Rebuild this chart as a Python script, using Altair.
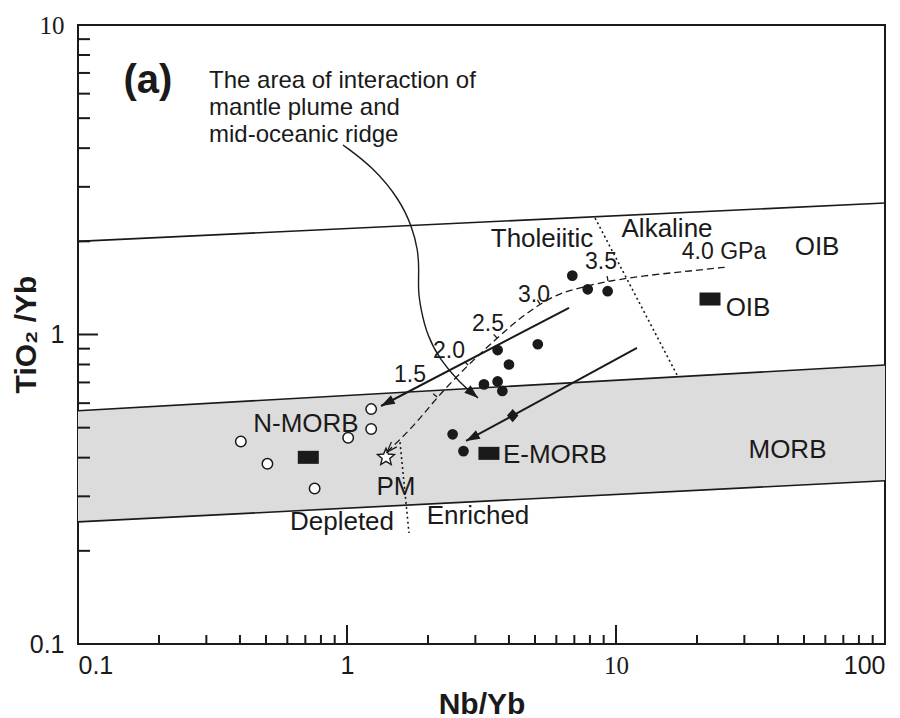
import altair as alt
import pandas as pd

# ---------------- data ----------------
x_ticks_major = [1, 10]
x_ticks_minor = [0.2, 0.3, 0.4, 0.5, 0.6, 0.7, 0.8, 0.9,
                 2, 3, 4, 5, 6, 7, 8, 9,
                 20, 30, 40, 50, 60, 70, 80, 90]
y_ticks_major = [1]
y_ticks_minor = [0.2, 0.3, 0.4, 0.5, 0.6, 0.7, 0.8, 0.9,
                 2, 3, 4, 5, 6, 7, 8, 9]

# field boundaries
bound_x = [0.1, 100]
oib_upper_y = [2.0, 2.66]
morb_upper_y = [0.567, 0.797]
morb_lower_y = [0.248, 0.337]

# Tholeiitic / Alkaline divider and Depleted / Enriched divider
thol_x = [8.36, 16.86]
thol_y = [2.379, 0.740]
depl_x = [1.574, 1.70]
depl_y = [0.449, 0.2284]

# open circles (N-MORB-like samples)
open_x = [0.403, 0.506, 0.758, 1.01, 1.23, 1.23]
open_y = [0.451, 0.382, 0.318, 0.464, 0.574, 0.495]

# filled circles
fill_x = [6.88, 7.85, 9.31, 5.12, 3.63, 4.0, 3.23, 3.63, 3.78, 2.47, 2.71]
fill_y = [1.55, 1.40, 1.38, 0.93, 0.891, 0.80, 0.69, 0.705, 0.657, 0.476, 0.42]

# reference compositions (black rectangles)
ref_name = ["N-MORB", "E-MORB", "OIB"]
ref_x = [0.718, 3.37, 22.36]
ref_y = [0.401, 0.413, 1.302]

# primitive mantle star
pm_x = [1.396]
pm_y = [0.401]

# diamond on lower arrow
dia_x = [4.13]
dia_y = [0.547]

# straight arrows (start -> tip)
arrow1_x = [6.69, 1.338]
arrow1_y = [1.22, 0.5875]
arrow2_x = [11.97, 2.770]
arrow2_y = [0.9045, 0.453]

# curved annotation arrow
curve_x = [0.966, 1.249, 1.574, 1.745, 1.836, 1.852, 1.836, 1.884, 1.984, 2.217, 2.631, 3.069]
curve_y = [4.096, 3.476, 2.720, 2.225, 1.875, 1.616, 1.393, 1.200, 0.996, 0.827, 0.697, 0.624]

# melting (pressure) curve, dashed
melt_x = [1.408, 1.790, 2.161, 2.818, 3.611, 4.397, 5.219, 6.193, 7.540, 9.338, 13.38, 18.84, 25.86]
melt_y = [0.417, 0.510, 0.628, 0.797, 0.974, 1.131, 1.254, 1.362, 1.424, 1.489, 1.557, 1.604, 1.652]

# pressure ticks on melting curve
ptick_x = [2.161, 2.818, 3.611, 5.219, 9.338]
ptick_y = [0.628, 0.797, 0.974, 1.254, 1.489]
ptick_angle = [311, 315, 318, 328, 350]
plabel_text = ["1.5", "2.0", "2.5", "3.0", "3.5"]
plabel_x = [1.715, 2.394, 3.344, 4.957, 8.797]
plabel_y = [0.740, 0.885, 1.081, 1.341, 1.715]
gpa_text = ["4.0 GPa"]
gpa_x = [25.2]
gpa_y = [1.848]

# arrowheads (tip positions and heading)
head_x = [1.338, 2.770, 3.069]
head_y = [0.5875, 0.453, 0.624]
head_angle = [242, 242, 130]
open_head_x = [1.408]
open_head_y = [0.417]
open_head_angle = [223]

# field / composition labels
lab_text = ["Tholeiitic", "Alkaline", "OIB", "OIB", "N-MORB", "PM",
            "Depleted", "Enriched", "E-MORB", "MORB"]
lab_x = [5.31, 15.48, 55.9, 30.96, 0.704, 1.521, 0.958, 3.069, 5.93, 43.4]
lab_y = [2.035, 2.192, 1.918, 1.222, 0.514, 0.3217, 0.248, 0.260, 0.407, 0.422]

note_text = ["The area of interaction of\nmantle plume and\nmid-oceanic ridge"]
note_x = [0.307]
note_y = [6.25]

panel_text = ["(a)"]
panel_x = [0.182]
panel_y = [6.60]

# ---------------- chart ----------------
W, H = 807, 619
INK = "#1a1a1a"
SANS = "Liberation Sans"

label_font = {"condition": {"test": "datum.value == 10", "value": "Liberation Serif"},
              "value": SANS}

xaxis = alt.Axis(values=[0.1, 1, 10, 100], format="~g", ticks=False, domain=False,
                 grid=False, labelFontSize=25, labelPadding=9, labelColor=INK,
                 labelFont=label_font, title="Nb/Yb", titleFontSize=30,
                 titleFont=SANS, titleFontWeight="bold", titleColor=INK,
                 titleY=69, titleBaseline="alphabetic", labelOverlap=False)
yaxis = alt.Axis(values=[0.1, 1, 10], format="~g", ticks=False, domain=False,
                 grid=False, labelFontSize=25, labelPadding=14, labelColor=INK,
                 labelFont=label_font, labelBaseline="middle", title="TiO₂ /Yb",
                 titleFontSize=30, titleFont=SANS, titleFontWeight="bold",
                 titleColor=INK, titleAngle=270, titleX=-43, titleY=309,
                 titleAlign="center", titleBaseline="alphabetic", labelOverlap=False)

xscale = alt.Scale(type="log", domain=[0.1, 100], nice=False)
yscale = alt.Scale(type="log", domain=[0.1, 10], nice=False)


def X():
    return alt.X("x:Q", scale=xscale, axis=xaxis)


def Y():
    return alt.Y("y:Q", scale=yscale, axis=yaxis)


def df(x, y, **kw):
    d = {"x": x, "y": y}
    d.update(kw)
    d["i"] = list(range(len(x)))
    return pd.DataFrame(d)


# grey MORB band
band = alt.Chart(pd.DataFrame({"x": bound_x, "y": morb_lower_y, "y2": morb_upper_y})).mark_area(
    color="#dcdcdc", opacity=1).encode(x=X(), y=Y(), y2="y2:Q")


def line(x, y, width=1.6, dash=None, interp="linear", color=INK):
    kw = dict(color=color, strokeWidth=width, interpolate=interp)
    if dash:
        kw["strokeDash"] = dash
    return alt.Chart(df(x, y)).mark_line(**kw).encode(x=X(), y=Y(), order="i:Q")


l_oib = line(bound_x, oib_upper_y, 1.6)
l_mu = line(bound_x, morb_upper_y, 1.6)
l_ml = line(bound_x, morb_lower_y, 1.6)
l_thol = line(thol_x, thol_y, 1.6, [2, 3])
l_depl = line(depl_x, depl_y, 1.6, [2, 3])
l_melt = line(melt_x, melt_y, 1.3, [7, 4], "basis")
l_curve = line(curve_x, curve_y, 1.4, None, "basis")
l_a1 = line(arrow1_x, arrow1_y, 2.0)
l_a2 = line(arrow2_x, arrow2_y, 2.0)

# axis ticks drawn inward
xt_major = alt.Chart(pd.DataFrame({"x": x_ticks_major})).mark_rule(color=INK, strokeWidth=2).encode(
    x=X(), y=alt.value(H), y2=alt.value(H - 19))
xt_minor = alt.Chart(pd.DataFrame({"x": x_ticks_minor})).mark_rule(color=INK, strokeWidth=2).encode(
    x=X(), y=alt.value(H), y2=alt.value(H - 9))
yt_major = alt.Chart(pd.DataFrame({"y": y_ticks_major})).mark_rule(color=INK, strokeWidth=2).encode(
    y=Y(), x=alt.value(0), x2=alt.value(20))
yt_minor = alt.Chart(pd.DataFrame({"y": y_ticks_minor})).mark_rule(color=INK, strokeWidth=2).encode(
    y=Y(), x=alt.value(0), x2=alt.value(12))

# symbols
RECT = "M-1,-0.62L1,-0.62L1,0.62L-1,0.62Z"
STAR = ("M0,-1L0.265,-0.364L0.951,-0.309L0.428,0.139L0.588,0.809L0,0.45"
        "L-0.588,0.809L-0.428,0.139L-0.951,-0.309L-0.265,-0.364Z")
DIAM = "M0,-1L0.85,0L0,1L-0.85,0Z"
TRI = "M0,0L0.7,2L-0.7,2Z"
CHEV = "M-0.7,2L0,0L0.7,2"
TICK = "M0,0L0,-1"

p_open = alt.Chart(df(open_x, open_y)).mark_point(
    shape="circle", filled=True, fill="white", stroke=INK, strokeWidth=1.5, size=110, opacity=1
).encode(x=X(), y=Y())
p_fill = alt.Chart(df(fill_x, fill_y)).mark_point(
    shape="circle", filled=True, color=INK, size=115, opacity=1).encode(x=X(), y=Y())
p_ref = alt.Chart(df(ref_x, ref_y, name=ref_name)).mark_point(
    shape=RECT, filled=True, color=INK, size=441, opacity=1).encode(x=X(), y=Y())
p_star = alt.Chart(df(pm_x, pm_y)).mark_point(
    shape=STAR, filled=True, fill="white", stroke=INK, strokeWidth=1.4, size=320, opacity=1
).encode(x=X(), y=Y())
p_dia = alt.Chart(df(dia_x, dia_y)).mark_point(
    shape=DIAM, filled=True, color=INK, size=180, opacity=1).encode(x=X(), y=Y())
p_head = alt.Chart(df(head_x, head_y, a=head_angle)).mark_point(
    shape=TRI, filled=True, color=INK, size=190, opacity=1).encode(
    x=X(), y=Y(), angle=alt.Angle("a:Q", scale=None))
p_chev = alt.Chart(df(open_head_x, open_head_y, a=open_head_angle)).mark_point(
    shape=CHEV, filled=False, stroke=INK, strokeWidth=1.2, size=110, opacity=1).encode(
    x=X(), y=Y(), angle=alt.Angle("a:Q", scale=None))
p_ptick = alt.Chart(df(ptick_x, ptick_y, a=ptick_angle)).mark_point(
    shape=TICK, filled=False, stroke=INK, strokeWidth=1.3, size=100, opacity=1).encode(
    x=X(), y=Y(), angle=alt.Angle("a:Q", scale=None))

# text
t_lab = alt.Chart(df(lab_x, lab_y, t=lab_text)).mark_text(
    font=SANS, fontSize=26, color=INK, align="center", baseline="middle").encode(
    x=X(), y=Y(), text="t:N")
t_pres = alt.Chart(df(plabel_x, plabel_y, t=plabel_text)).mark_text(
    font=SANS, fontSize=23, color=INK, align="center", baseline="middle").encode(
    x=X(), y=Y(), text="t:N")
t_gpa = alt.Chart(df(gpa_x, gpa_y, t=gpa_text)).mark_text(
    font=SANS, fontSize=23, color=INK, align="center", baseline="middle").encode(
    x=X(), y=Y(), text="t:N")
t_note = alt.Chart(df(note_x, note_y, t=note_text)).mark_text(
    font=SANS, fontSize=24, color=INK, align="left", baseline="alphabetic",
    lineBreak="\n", lineHeight=27).encode(x=X(), y=Y(), text="t:N")
t_panel = alt.Chart(df(panel_x, panel_y, t=panel_text)).mark_text(
    font=SANS, fontSize=40, fontWeight="bold", color=INK, align="center",
    baseline="middle").encode(x=X(), y=Y(), text="t:N")

chart = alt.layer(
    band, l_oib, l_mu, l_ml, l_thol, l_depl, l_melt, l_curve, l_a1, l_a2,
    xt_major, xt_minor, yt_major, yt_minor,
    p_open, p_fill, p_ref, p_star, p_dia, p_head, p_chev, p_ptick,
    t_lab, t_pres, t_gpa, t_note, t_panel,
).properties(
    width=W, height=H,
    autosize=alt.AutoSizeParams(type="none"),
    padding={"left": 78, "top": 25, "right": 15, "bottom": 74},
    background="white",
).configure_view(stroke=INK, strokeWidth=2)

chart.save("out.html", embed_options={"renderer": "svg", "actions": False})
